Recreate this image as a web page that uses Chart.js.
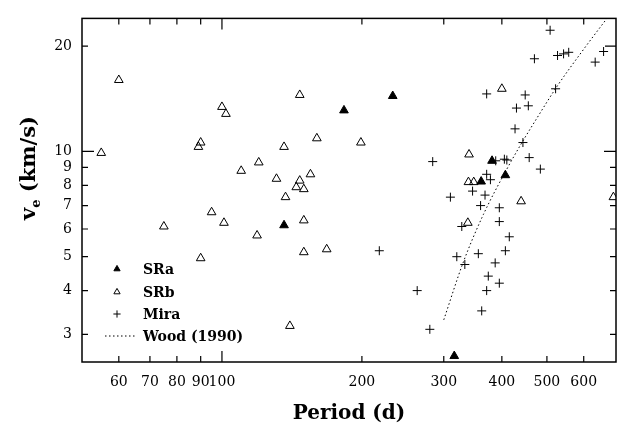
<!DOCTYPE html>
<html>
<head>
<meta charset="utf-8">
<script src="https://cdn.jsdelivr.net/npm/chart.js@4"></script>
<style>
  html, body { margin: 0; padding: 0; background: #fff; }
  #wrap { width: 627px; height: 432px; }
</style>
</head>
<body>
<div id="wrap"><canvas id="chart" width="627" height="432"></canvas></div>
<script>
"use strict";

// SRa (filled triangles)
const sraPeriod = [183, 233, 136, 381, 361, 407, 316];
const sraVel    = [13.1, 14.4, 6.15, 9.4, 8.2, 8.55, 2.6];

// SRb (open triangles)
const srbPeriod = [60, 55, 100, 102, 90, 89, 147, 136, 160, 120, 110, 131, 147, 155, 144.5, 150, 137,
                   95, 101, 75, 119, 150, 90, 150, 168, 140, 199, 400, 340, 339, 348, 440, 695, 338];
const srbVel    = [16.0, 9.9, 13.4, 12.8, 10.6, 10.3, 14.5, 10.3, 10.9, 9.3, 8.8, 8.35, 8.25, 8.6, 7.9, 7.8, 7.4,
                   6.7, 6.25, 6.1, 5.75, 6.35, 4.95, 5.15, 5.25, 3.17, 10.6, 15.1, 9.8, 8.17, 8.17, 7.2, 7.4, 6.25];

// Mira (plus signs)
const miraPeriod = [508, 470, 527, 543, 557, 635, 662, 371, 449, 456, 430, 522, 427, 444, 284, 458, 484,
                    388, 405, 410, 371, 378, 310, 346, 368, 360, 395, 395, 328, 415, 218, 320, 356, 407,
                    333, 387, 374, 395, 263, 371, 362, 280];
const miraVel    = [22.2, 18.4, 18.8, 19.0, 19.2, 18.0, 19.3, 14.6, 14.5, 13.5, 13.3, 15.1, 11.6, 10.6, 9.35, 9.6, 8.9,
                    9.4, 9.5, 9.45, 8.6, 8.3, 7.4, 7.7, 7.5, 7.0, 6.9, 6.3, 6.1, 5.7, 5.2, 5.0, 5.1, 5.2,
                    4.75, 4.8, 4.4, 4.2, 4.0, 4.0, 3.5, 3.1];

// Wood (1990) relation
const woodPeriod = [300, 330, 365, 410, 440, 475, 525, 600, 673];
const woodVel    = [3.3, 4.8, 6.6, 8.9, 10.5, 12.4, 15.3, 19.6, 24.0];

const xTicks = [60, 70, 80, 90, 100, 200, 300, 400, 500, 600];
const yTicks = [3, 4, 5, 6, 7, 8, 9, 10, 20];

const FONT = "'DejaVu Serif', serif";

function pts(xs, ys) {
  return xs.map((x, i) => ({ x: x, y: ys[i] }));
}

// frame, inward ticks, legend and y title
const decorPlugin = {
  id: "decor",
  afterDraw(chart) {
    const ctx = chart.ctx;
    const a = chart.chartArea;
    const xs = chart.scales.x;
    const ys = chart.scales.y;
    ctx.save();
    ctx.strokeStyle = "#000";
    ctx.lineWidth = 1.5;
    ctx.strokeRect(a.left, a.top, a.right - a.left, a.bottom - a.top);

    ctx.lineWidth = 1.2;
    ctx.beginPath();
    xTicks.forEach(v => {
      const px = xs.getPixelForValue(v);
      const len = v === 100 ? 11 : 6;
      ctx.moveTo(px, a.bottom); ctx.lineTo(px, a.bottom - len);
      ctx.moveTo(px, a.top); ctx.lineTo(px, a.top + len);
    });
    yTicks.forEach(v => {
      const py = ys.getPixelForValue(v);
      const len = v === 10 ? 12 : 6;
      ctx.moveTo(a.left, py); ctx.lineTo(a.left + len, py);
      ctx.moveTo(a.right, py); ctx.lineTo(a.right - (v === 20 ? 11 : len), py);
    });
    ctx.stroke();

    // legend
    const lx = 117, tx = 143;
    const rows = [269, 292, 314, 336];
    ctx.font = "bold 14px " + FONT;
    ctx.textBaseline = "middle";
    ctx.textAlign = "left";
    chart.data.datasets.forEach((ds, i) => {
      const y = rows[i];
      ctx.fillStyle = "#000";
      ctx.fillText(ds.label, tx, y + 1);
      if (ds.type === "line") {
        ctx.save();
        ctx.setLineDash([1.5, 2.5]);
        ctx.lineWidth = 1;
        ctx.beginPath();
        ctx.moveTo(105, y); ctx.lineTo(137, y);
        ctx.stroke();
        ctx.restore();
      } else {
        ctx.fillStyle = ds.backgroundColor;
        ctx.strokeStyle = ds.borderColor;
        ctx.lineWidth = 1;
        Chart.helpers.drawPoint(ctx, {
          pointStyle: ds.pointStyle, radius: 3.6, rotation: 0, borderWidth: 1
        }, lx, y);
      }
    });

    // y axis title with subscript
    ctx.translate(28, 168);
    ctx.rotate(-Math.PI / 2);
    ctx.fillStyle = "#000";
    ctx.textAlign = "left";
    ctx.textBaseline = "alphabetic";
    const main = "v";
    const rest = " (km/s)";
    ctx.font = "bold 21px " + FONT;
    const wv = ctx.measureText(main).width;
    ctx.font = "bold 13px " + FONT;
    const we = ctx.measureText("e").width;
    ctx.font = "bold 21px " + FONT;
    const wr = ctx.measureText(rest).width;
    const total = wv + we + wr;
    let x0 = -total / 2;
    ctx.fillText(main, x0, 7);
    ctx.font = "bold 13px " + FONT;
    ctx.fillText("e", x0 + wv, 12);
    ctx.font = "bold 21px " + FONT;
    ctx.fillText(rest, x0 + wv + we, 7);
    ctx.restore();
  }
};

const data = {
  datasets: [
    {
      label: "SRa",
      data: pts(sraPeriod, sraVel),
      pointStyle: "triangle",
      pointRadius: 5,
      backgroundColor: "#000",
      borderColor: "#000",
      borderWidth: 1,
      showLine: false
    },
    {
      label: "SRb",
      data: pts(srbPeriod, srbVel),
      pointStyle: "triangle",
      pointRadius: 5,
      backgroundColor: "rgba(255,255,255,0)",
      borderColor: "#000",
      borderWidth: 1,
      showLine: false
    },
    {
      label: "Mira",
      data: pts(miraPeriod, miraVel),
      pointStyle: "cross",
      pointRadius: 4.5,
      backgroundColor: "#000",
      borderColor: "#000",
      borderWidth: 1,
      showLine: false
    },
    {
      type: "line",
      label: "Wood (1990)",
      data: pts(woodPeriod, woodVel),
      borderColor: "#000",
      backgroundColor: "#000",
      borderWidth: 1,
      borderDash: [1.5, 2.5],
      pointRadius: 0,
      cubicInterpolationMode: "monotone",
      fill: false
    }
  ]
};

const config = {
  type: "scatter",
  data: data,
  options: {
    responsive: false,
    animation: false,
    layout: { padding: { left: 0, right: 11, top: 7, bottom: 0 } },
    plugins: {
      legend: { display: false },
      tooltip: { enabled: false }
    },
    scales: {
      x: {
        type: "logarithmic",
        min: 50,
        max: 704,
        afterBuildTicks: scale => { scale.ticks = xTicks.map(v => ({ value: v })); },
        afterFit: scale => { scale.height = 70; },
        grid: { display: false, drawTicks: false },
        border: { display: false },
        ticks: {
          autoSkip: false,
          maxRotation: 0,
          padding: 12,
          color: "#000",
          font: { family: FONT, size: 14 },
          callback: v => String(v)
        },
        title: {
          display: true,
          text: "Period (d)",
          color: "#000",
          font: { family: FONT, size: 20, weight: "bold" },
          padding: { top: 0, bottom: 6 }
        }
      },
      y: {
        type: "logarithmic",
        min: 2.5,
        max: 24,
        afterBuildTicks: scale => { scale.ticks = yTicks.map(v => ({ value: v })); },
        afterFit: scale => { scale.width = 82; },
        grid: { display: false, drawTicks: false },
        border: { display: false },
        ticks: {
          autoSkip: false,
          padding: 10,
          color: "#000",
          font: { family: FONT, size: 14 },
          callback: v => String(v)
        }
      }
    }
  },
  plugins: [decorPlugin]
};

const myChart = new Chart(document.getElementById("chart"), config);
</script>
</body>
</html>
